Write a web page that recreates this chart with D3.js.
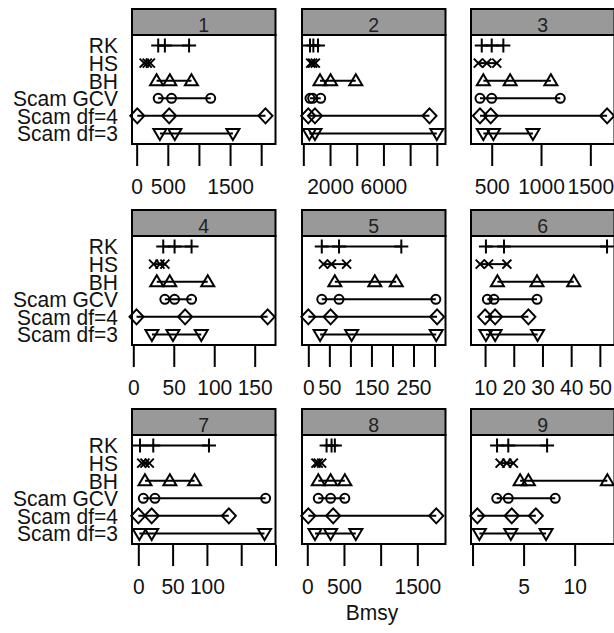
<!DOCTYPE html>
<html lang="en">
<head>
  <meta charset="UTF-8">
  <script src="https://d3js.org/d3.v7.min.js"></script>
  <title>Bmsy dotplot</title>
  <style>
    body { margin: 0; background: white; }
    text { font-family: "Liberation Sans", Arial, sans-serif; fill: #111; }
  </style>
</head>
<body>
  <div id="chart"></div>
<script>
  // row categories (top to bottom)
  var methods = ["RK", "HS", "BH", "Scam GCV", "Scam df=4", "Scam df=3"];
  var panelNames = ["1", "2", "3", "4", "5", "6", "7", "8", "9"];

  // three estimates per method, one array per stock
  var stock1 = [[346, 453, 842], [120, 170, 220], [320, 533, 880], [346, 560, 1189], [10, 522, 2069], [373, 613, 1546]];
  var stock2 = [[500, 750, 1100], [550, 700, 900], [1250, 2040, 3930], [500, 700, 1300], [370, 870, 9450], [450, 870, 10000]];
  var stock3 = [[399, 500, 618], [364, 450, 551], [415, 687, 1100], [381, 500, 1195], [381, 490, 1670], [415, 517, 918]];
  var stock4 = [[37, 51, 72], [25, 33, 39], [29, 45, 92], [39, 51, 72], [4, 64, 166], [23, 49, 84]];
  var stock5 = [[32, 73, 221], [36, 55, 91], [63, 158, 209], [32, 73, 303], [0, 53, 306], [28, 103, 304]];
  var stock6 = [[10.3, 16.6, 52.5], [8.3, 11.2, 17.6], [14.3, 28.1, 40.9], [10.8, 13.1, 28.1], [10, 13.5, 25.1], [10.3, 13.5, 28.3]];
  var stock7 = [[2.5, 21.8, 103], [5, 9.7, 16], [9.7, 46, 82], [7.3, 24.3, 185.6], [0, 19.5, 132], [1.5, 19.5, 184]];
  var stock8 = [[263, 331, 376], [118, 150, 196], [150, 318, 512], [150, 318, 512], [14, 353, 1758], [105, 318, 662]];
  var stock9 = [[2.4, 3.5, 7.3], [2.7, 3.35, 4.0], [4.66, 5.47, 13.2], [2.37, 3.5, 8.1], [0.47, 3.84, 6.2], [0.67, 3.75, 7.2]];
  var stocks = [stock1, stock2, stock3, stock4, stock5, stock6, stock7, stock8, stock9];

  // x limits per panel (free scales)
  var xLimits = [[-75, 2230], [-100, 10650], [290, 1745], [-1.6, 175.7], [-15, 326], [5.1, 55.1], [-9.2, 200], [-72, 1884], [-0.15, 13.9]];
  // tick values and the labels that are printed
  var tickValues = [
    [0, 500, 1000, 1500, 2000], [0, 2000, 4000, 6000, 8000, 10000], [500, 1000, 1500],
    [0, 50, 100, 150], [0, 50, 100, 150, 200, 250, 300], [10, 20, 30, 40, 50],
    [0, 50, 100, 150, 200], [0, 500, 1000, 1500], [0, 5, 10]
  ];
  var tickLabels = [
    ["0", "500", "", "1500", ""], ["", "2000", "", "6000", "", ""], ["500", "1000", "1500"],
    ["0", "50", "100", "150"], ["0", "50", "", "150", "", "250", ""], ["10", "20", "30", "40", "50"],
    ["0", "50", "100", "", ""], ["0", "500", "", "1500"], ["", "5", "10"]
  ];

  var width = 614, height = 633;
  var colX = [132, 302, 471], panelW = 143.5;
  var rowY = [9, 210, 409], stripH = 26, panelH = 109;
  var stretch = 1.08; // text in the original is slightly tall

  // marker shapes per method
  var shapes = [
    "M-7,0H7M0,-7V7",
    "M-4.5,-4.5L4.5,4.5M-4.5,4.5L4.5,-4.5",
    "M0,-6.5L6.5,4.5L-6.5,4.5Z",
    d3.symbol(d3.symbolCircle, 64)(),
    "M0,-7.5L7,0L0,7.5L-7,0Z",
    "M0,6.5L6.5,-4.5L-6.5,-4.5Z"
  ];

  var svg = d3.select("#chart").append("svg")
    .attr("width", width)
    .attr("height", height);

  var y = d3.scalePoint()
    .domain(methods)
    .range([0, panelH])
    .padding(0.6);

  // method labels on the left, beside each row
  [0, 1, 2].forEach(function(r) {
    svg.append("g")
      .attr("transform", "translate(118," + (rowY[r] + stripH) + ")")
      .selectAll("text")
      .data(methods)
      .join("text")
      .attr("transform", d => "translate(0," + (y(d) + 7.8) + ") scale(1," + stretch + ")")
      .attr("text-anchor", "end")
      .style("font-size", "21px")
      .text(d => d);
  });

  panelNames.forEach(function(name, i) {
    var col = i % 3, row = Math.floor(i / 3);
    var g = svg.append("g")
      .attr("transform", "translate(" + colX[col] + "," + rowY[row] + ")");

    var x = d3.scaleLinear()
      .domain(xLimits[i])
      .range([0, panelW]);

    // strip
    g.append("rect")
      .attr("width", panelW).attr("height", stripH)
      .attr("fill", "#999999")
      .attr("stroke", "black").attr("stroke-width", 2);
    g.append("text")
      .attr("transform", "translate(" + (panelW / 2) + "," + (stripH - 3.5) + ") scale(1," + stretch + ")")
      .attr("text-anchor", "middle")
      .style("font-size", "19.5px")
      .style("fill", "#222")
      .text(name);

    var p = g.append("g").attr("transform", "translate(0," + stripH + ")");

    p.append("rect")
      .attr("width", panelW).attr("height", panelH)
      .attr("fill", "white")
      .attr("stroke", "black").attr("stroke-width", 2);

    // axis below the panel
    var axis = d3.axisBottom(x)
      .tickValues(tickValues[i])
      .tickSize(21)
      .tickFormat((d, k) => tickLabels[i][k]);
    var ax = p.append("g")
      .attr("transform", "translate(0," + (panelH + 1) + ")")
      .call(axis);
    ax.select(".domain").remove();
    ax.selectAll(".tick line").attr("stroke", "black").attr("stroke-width", 2);
    ax.selectAll(".tick text")
      .attr("y", 49 / stretch)
      .attr("dy", null)
      .attr("transform", "scale(1," + stretch + ")")
      .style("font-size", "21px")
      .style("font-family", '"Liberation Sans", Arial, sans-serif')
      .attr("fill", "#111");

    var rows = p.selectAll(".mrow")
      .data(stocks[i].map((v, k) => ({ method: methods[k], k: k, vals: v })))
      .join("g")
      .attr("class", "mrow");

    rows.append("line")
      .attr("x1", d => x(d3.min(d.vals)))
      .attr("x2", d => x(d3.max(d.vals)))
      .attr("y1", d => y(d.method))
      .attr("y2", d => y(d.method))
      .attr("stroke", "black")
      .attr("stroke-width", 2);

    rows.selectAll("path")
      .data(d => d.vals.map(v => ({ v: v, k: d.k, method: d.method })))
      .join("path")
      .attr("transform", d => "translate(" + x(d.v) + "," + y(d.method) + ")")
      .attr("d", d => shapes[d.k])
      .attr("fill", "none")
      .attr("stroke", "black")
      .attr("stroke-width", 2);
  });

  svg.append("text")
    .attr("transform", "translate(372,620) scale(1," + stretch + ")")
    .attr("text-anchor", "middle")
    .style("font-size", "21px")
    .text("Bmsy");
</script>
</body>
</html>
